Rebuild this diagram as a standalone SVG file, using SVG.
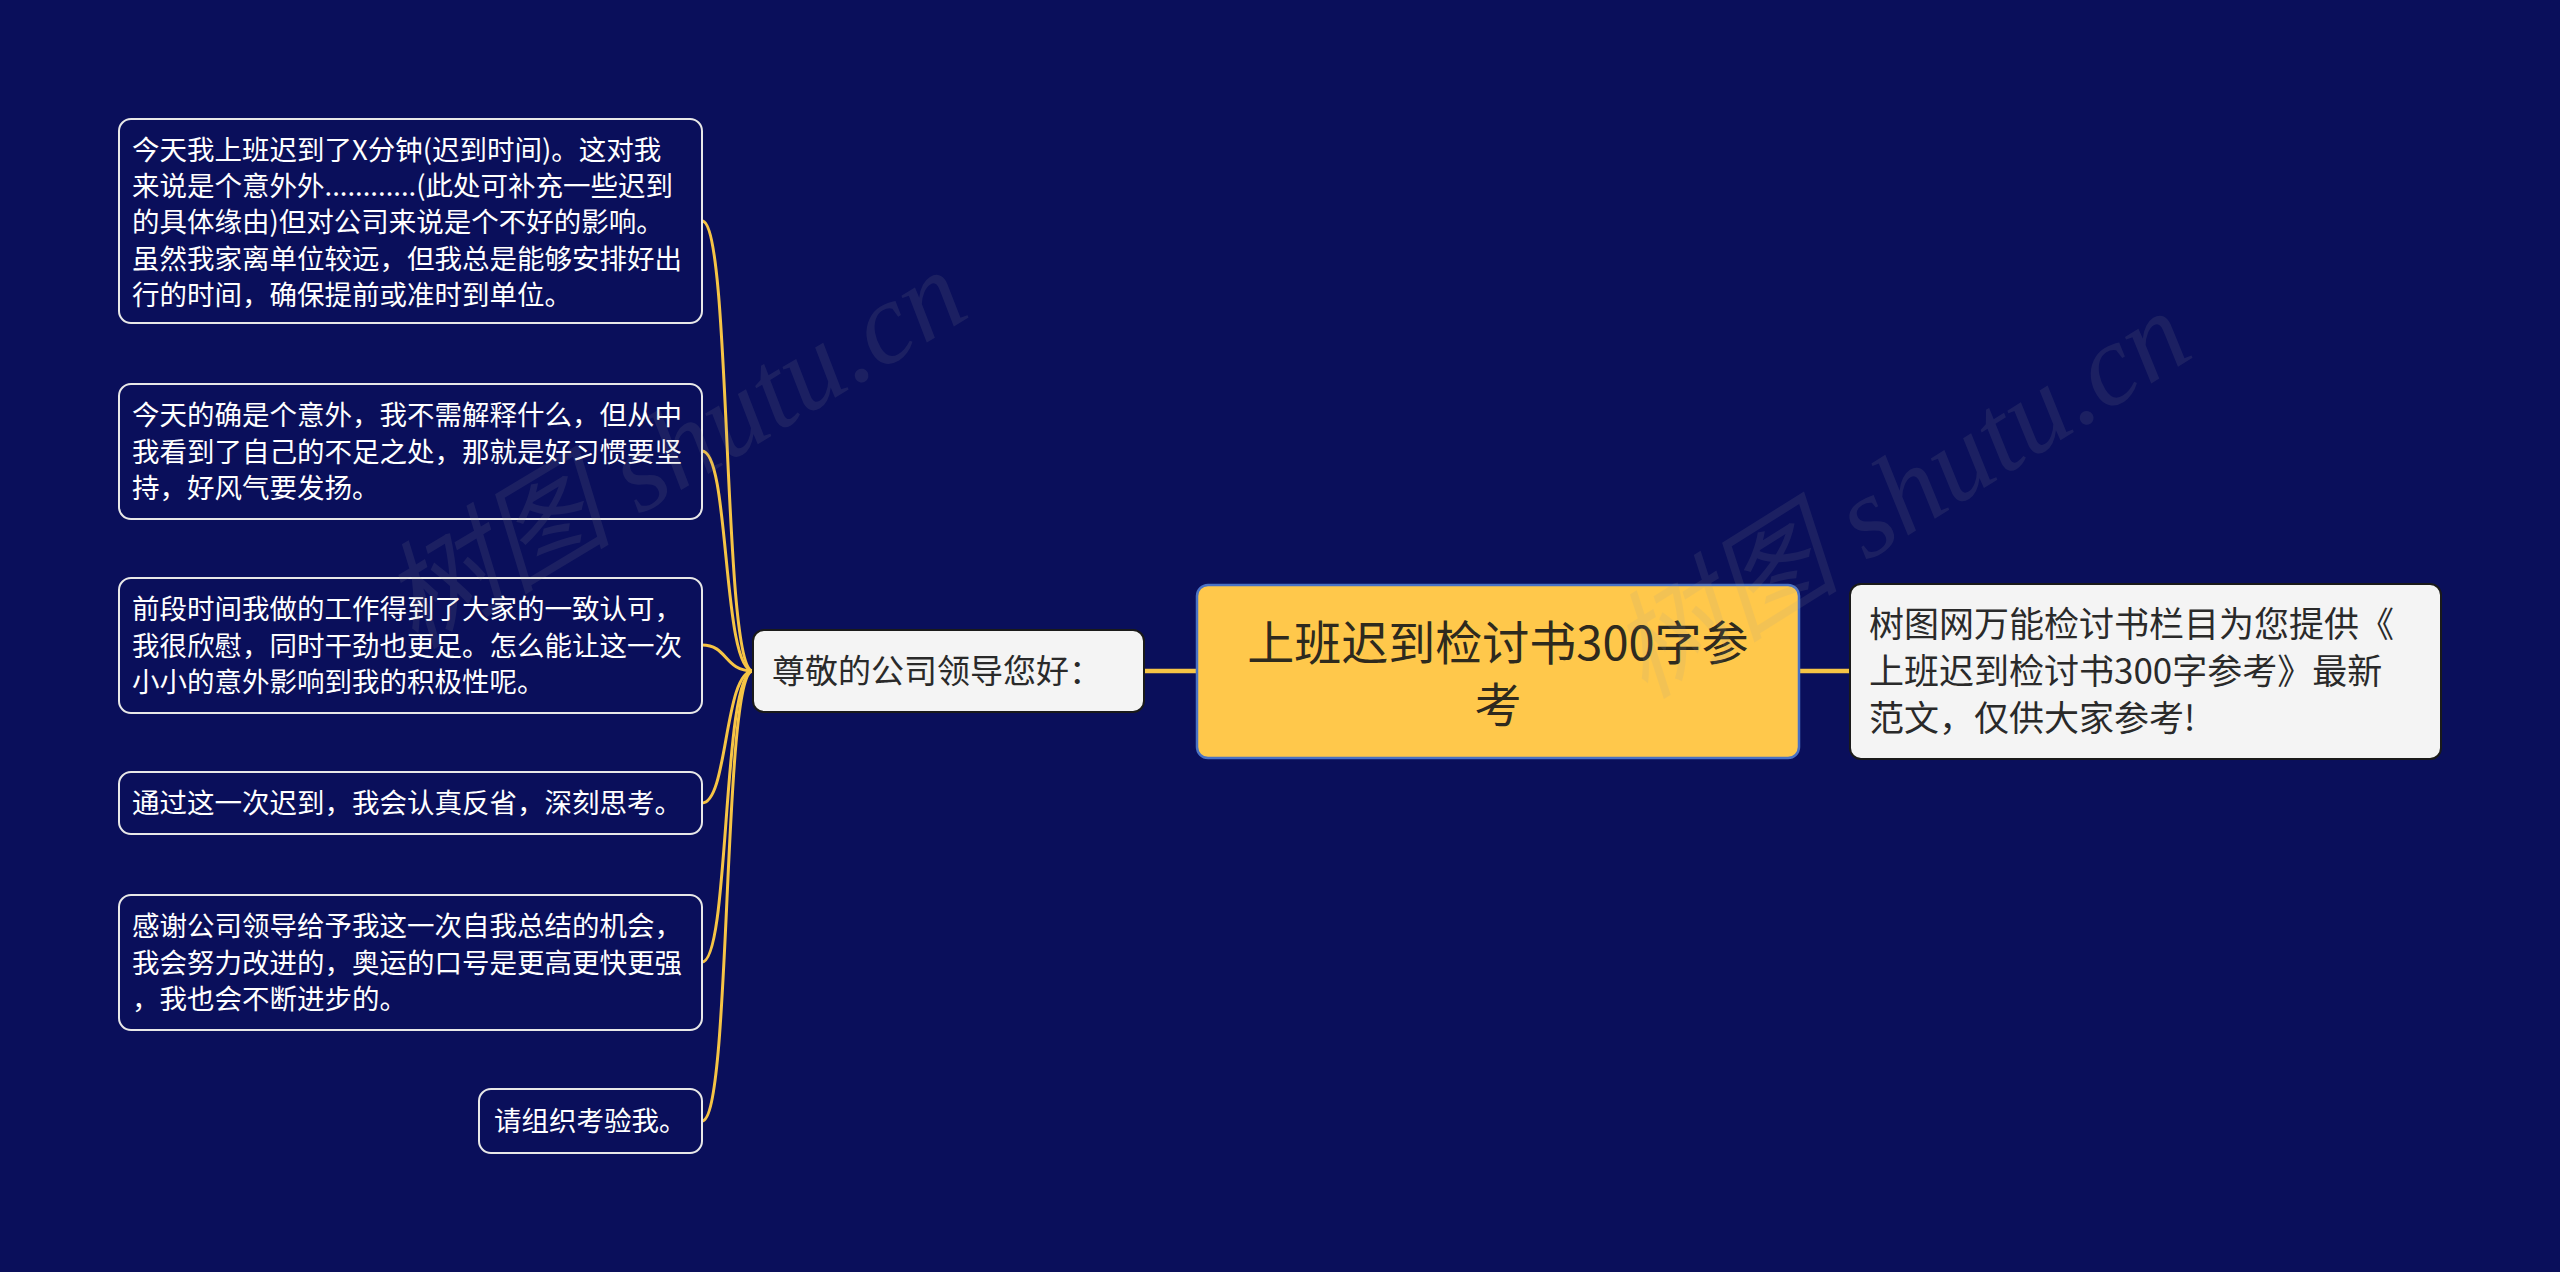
<svg xmlns="http://www.w3.org/2000/svg" width="2560" height="1272" viewBox="0 0 2560 1272">
  <style>
    .bg { fill: #0a0f5b; }
    .leaf rect { fill: #0a0f5b; stroke: #e8e8e8; stroke-width: 2; }
    .leaf text { fill: #ffffff; font-family: "Noto Sans CJK SC", "Noto Sans", sans-serif; font-size: 27.5px; }
    .conn { fill: none; stroke: #f6c445; stroke-width: 3; stroke-linecap: round; }
    .conn.thick { stroke-width: 4.5; }
    .light rect { fill: #f4f4f4; stroke: #1a1a1a; stroke-width: 2; }
    .light text { fill: #2a2a2a; font-family: "Noto Sans CJK SC", "Noto Sans", sans-serif; }
    .root rect { fill: #ffc84b; stroke: #4a72c4; stroke-width: 2.5; }
    .root text { fill: #2e2a1e; font-family: "Noto Sans CJK SC", "Noto Sans", sans-serif; font-size: 47px; text-anchor: middle; }
    .wm { font-family: "Liberation Serif", "Noto Sans CJK SC", serif; font-size: 116px; font-style: italic; fill: #9a9a9a; opacity: 0.12; }
  </style>
  <rect class="bg" x="0" y="0" width="2560" height="1272"/>

  <g id="connectors">
    <path class="conn thick" d="M1144 671 L1197 671"/>
    <path class="conn thick" d="M1799 671 L1850 671"/>
    <path class="conn" d="M753 671 C722 671, 732 221, 702 221"/>
    <path class="conn" d="M753 671 C722 671, 730 451, 702 451"/>
    <path class="conn" d="M753 671 C724 671, 728 645, 702 645"/>
    <path class="conn" d="M753 671 C724 671, 728 803, 702 803"/>
    <path class="conn" d="M753 671 C722 671, 730 962, 702 962"/>
    <path class="conn" d="M753 671 C722 671, 732 1121, 702 1121"/>
  </g>

  <g id="node-l1" class="leaf">
    <rect x="119" y="119" width="583" height="204" rx="12"/>
    <text x="132" y="160">今天我上班迟到了X分钟(迟到时间)。这对我</text>
    <text x="132" y="196">来说是个意外外............(此处可补充一些迟到</text>
    <text x="132" y="232">的具体缘由)但对公司来说是个不好的影响。</text>
    <text x="132" y="269">虽然我家离单位较远，但我总是能够安排好出</text>
    <text x="132" y="305">行的时间，确保提前或准时到单位。</text>
  </g>

  <g id="node-l2" class="leaf">
    <rect x="119" y="384" width="583" height="135" rx="12"/>
    <text x="132" y="425">今天的确是个意外，我不需解释什么，但从中</text>
    <text x="132" y="462">我看到了自己的不足之处，那就是好习惯要坚</text>
    <text x="132" y="498">持，好风气要发扬。</text>
  </g>

  <g id="node-l3" class="leaf">
    <rect x="119" y="578" width="583" height="135" rx="12"/>
    <text x="132" y="619">前段时间我做的工作得到了大家的一致认可，</text>
    <text x="132" y="656">我很欣慰，同时干劲也更足。怎么能让这一次</text>
    <text x="132" y="692">小小的意外影响到我的积极性呢。</text>
  </g>

  <g id="node-l4" class="leaf">
    <rect x="119" y="772" width="583" height="62" rx="12"/>
    <text x="132" y="813">通过这一次迟到，我会认真反省，深刻思考。</text>
  </g>

  <g id="node-l5" class="leaf">
    <rect x="119" y="895" width="583" height="135" rx="12"/>
    <text x="132" y="936">感谢公司领导给予我这一次自我总结的机会，</text>
    <text x="132" y="973">我会努力改进的，奥运的口号是更高更快更强</text>
    <text x="132" y="1009">，我也会不断进步的。</text>
  </g>

  <g id="node-l6" class="leaf">
    <rect x="479" y="1089" width="223" height="64" rx="12"/>
    <text x="494" y="1131">请组织考验我。</text>
  </g>

  <g id="node-mid" class="light">
    <rect x="753" y="630" width="391" height="82" rx="11"/>
    <text x="772" y="683" font-size="33">尊敬的公司领导您好：</text>
  </g>

  <g id="node-root" class="root">
    <rect x="1197" y="585" width="602" height="173" rx="11"/>
    <text x="1498" y="660">上班迟到检讨书300字参</text>
    <text x="1498" y="722">考</text>
  </g>

  <g id="node-right" class="light">
    <rect x="1850" y="584" width="591" height="175" rx="11"/>
    <text x="1869" y="637" font-size="35">树图网万能检讨书栏目为您提供《</text>
    <text x="1869" y="684" font-size="35">上班迟到检讨书300字参考》最新</text>
    <text x="1869" y="731" font-size="35">范文，仅供大家参考!</text>
  </g>

  <g id="watermarks">
    <text class="wm" transform="translate(415 650) rotate(-31)">树图 shutu.cn</text>
    <text class="wm" transform="translate(1645 700) rotate(-32)">树图 shutu.cn</text>
  </g>
</svg>
